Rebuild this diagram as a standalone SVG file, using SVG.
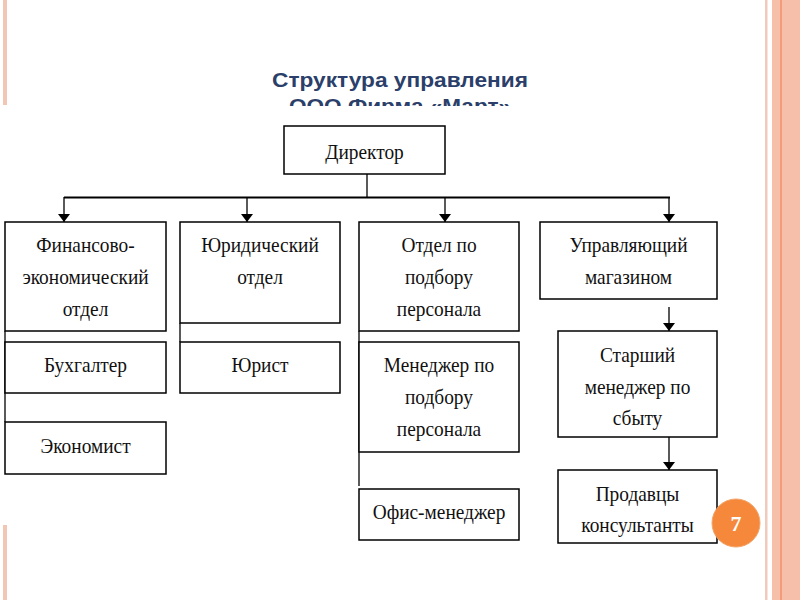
<svg xmlns="http://www.w3.org/2000/svg" width="800" height="600" viewBox="0 0 800 600">
<defs>
<style>
.box{fill:#fff;stroke:#000;stroke-width:1.5}
.t{font-family:"Liberation Serif","Times New Roman",serif;font-size:22px;fill:#111;text-anchor:middle}
.ln{stroke:#000;stroke-width:1.3;fill:none}
.title{font-family:"Liberation Sans",Arial,sans-serif;font-weight:bold;font-size:20px;fill:#2b3f6a;text-anchor:middle}
</style>
<marker id="ah" viewBox="0 0 8 12" refX="8" refY="6" markerWidth="8" markerHeight="12" markerUnits="userSpaceOnUse" orient="auto">
<path d="M0,0 L8,6 L0,12 z" fill="#000"/>
</marker>
<clipPath id="tc"><rect x="0" y="0" width="800" height="106"/></clipPath>
</defs>
<rect width="800" height="600" fill="#fff"/>
<g id="decor">
<rect x="3" y="0" width="4" height="105" fill="#f2c6b4"/>
<rect x="3" y="525" width="4" height="75" fill="#f2c6b4"/>
<rect x="765" y="0" width="2.5" height="600" fill="#f0cbbc"/>
<rect x="772" y="0" width="28" height="600" fill="#f5bfa9"/>
<rect x="780.5" y="0" width="1" height="600" fill="#f07a4e"/>
</g>
<g id="title" clip-path="url(#tc)">
<text class="title" x="400" y="87" textLength="256" lengthAdjust="spacingAndGlyphs">Структура управления</text>
<text class="title" x="400" y="113" textLength="222" lengthAdjust="spacingAndGlyphs">ООО Фирма «Март»</text>
</g>
<g id="connectors">
<path class="ln" d="M367,174 V197"/>
<path d="M64,197.5 H670" stroke="#000" stroke-width="2.2"/>
<path class="ln" d="M64,197 V222" marker-end="url(#ah)"/>
<path class="ln" d="M247,197 V222" marker-end="url(#ah)"/>
<path class="ln" d="M445,197 V222" marker-end="url(#ah)"/>
<path class="ln" d="M669,197 V222" marker-end="url(#ah)"/>
<path class="ln" d="M669,307 V331" marker-end="url(#ah)"/>
<path class="ln" d="M669,437 V470" marker-end="url(#ah)"/>
<path class="ln" d="M5,331 V422"/>
<path class="ln" d="M180,323 V342"/>
<path class="ln" d="M359,331 V486"/>
</g>
<g id="director"><rect class="box" x="284" y="126" width="161" height="48"/><g transform="translate(364.5 0) scale(0.88 1)"><text class="t" x="0" y="159">Директор</text></g></g>
<g id="fin"><rect class="box" x="5" y="222" width="161" height="109"/><g transform="translate(85.5 0) scale(0.88 1)"><text class="t" x="0" y="252">Финансово-</text><text class="t" x="0" y="284">экономический</text><text class="t" x="0" y="316">отдел</text></g></g>
<g id="buh"><rect class="box" x="5" y="342" width="161" height="51"/><g transform="translate(85.5 0) scale(0.88 1)"><text class="t" x="0" y="372">Бухгалтер</text></g></g>
<g id="econ"><rect class="box" x="5" y="422" width="161" height="52"/><g transform="translate(85.5 0) scale(0.88 1)"><text class="t" x="0" y="453">Экономист</text></g></g>
<g id="jur"><rect class="box" x="180" y="222" width="160" height="101"/><g transform="translate(260 0) scale(0.88 1)"><text class="t" x="0" y="252">Юридический</text><text class="t" x="0" y="284">отдел</text></g></g>
<g id="jurist"><rect class="box" x="180" y="342" width="160" height="51"/><g transform="translate(260 0) scale(0.88 1)"><text class="t" x="0" y="372">Юрист</text></g></g>
<g id="hr"><rect class="box" x="359" y="222" width="160" height="109"/><g transform="translate(439 0) scale(0.88 1)"><text class="t" x="0" y="252">Отдел по</text><text class="t" x="0" y="284">подбору</text><text class="t" x="0" y="316">персонала</text></g></g>
<g id="hrman"><rect class="box" x="359" y="342" width="160" height="110"/><g transform="translate(439 0) scale(0.88 1)"><text class="t" x="0" y="372">Менеджер по</text><text class="t" x="0" y="404">подбору</text><text class="t" x="0" y="436">персонала</text></g></g>
<g id="office"><rect class="box" x="359" y="489" width="160" height="51"/><g transform="translate(439 0) scale(0.88 1)"><text class="t" x="0" y="519">Офис-менеджер</text></g></g>
<g id="shop"><rect class="box" x="540" y="222" width="177" height="77"/><g transform="translate(628.5 0) scale(0.88 1)"><text class="t" x="0" y="252">Управляющий</text><text class="t" x="0" y="284">магазином</text></g></g>
<g id="senior"><rect class="box" x="558" y="331" width="159" height="106"/><g transform="translate(637.5 0) scale(0.88 1)"><text class="t" x="0" y="362">Старший</text><text class="t" x="0" y="394">менеджер по</text><text class="t" x="0" y="425">сбыту</text></g></g>
<g id="sales"><rect class="box" x="558" y="470" width="159" height="73"/><g transform="translate(637.5 0) scale(0.88 1)"><text class="t" x="0" y="501">Продавцы</text><text class="t" x="0" y="532">консультанты</text></g></g>
<g id="page">
<circle cx="736" cy="523" r="24" fill="#f5883a" stroke="#f3a46a" stroke-width="1"/>
<text x="736" y="531" font-family="'Liberation Serif',serif" font-weight="bold" font-size="22" fill="#fff" text-anchor="middle">7</text>
</g>
</svg>
